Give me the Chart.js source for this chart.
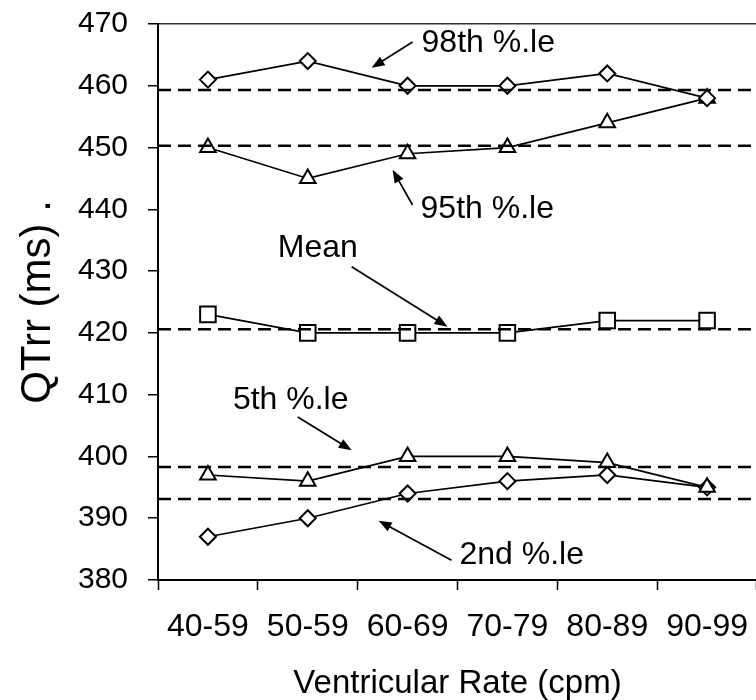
<!DOCTYPE html>
<html>
<head>
<meta charset="utf-8">
<title>QTrr menurut laju ventrikel</title>
<script src="https://cdn.jsdelivr.net/npm/chart.js@4.4.0/dist/chart.umd.min.js"></script>
<style>
    html, body { margin: 0; padding: 0; background: #fff; overflow: hidden; }
    .wrap { width: 756px; height: 700px; overflow: hidden; }
</style>
</head>
<body>
<div class="wrap"><canvas id="qtChart" width="770" height="700"></canvas></div>
<script>
// --- DATA ---
const categories = ['40-59', '50-59', '60-69', '70-79', '80-89', '90-99'];
const p98 = [461, 464, 460, 460, 462, 458];
const p95 = [450, 445, 449, 450, 454, 458];
const meanQt = [423, 420, 420, 420, 422, 422];
const p5 = [397, 396, 400, 400, 399, 395];
const p2 = [387, 390, 394, 396, 397, 395];
// garis putus-putus (nilai acuan)
const refLevels = [459.3, 450.3, 420.6, 398.3, 393.1];
const yTicks = [380, 390, 400, 410, 420, 430, 440, 450, 460, 470];

// Label dan panah, posisi dalam satuan skala (xRef: 0..6, y: ms)
const notes = [
    { text: '98th %.le', tx: 2.64, ty: 466.9, from: [2.55, 467.1], to: [2.14, 462.9] },
    { text: '95th %.le', tx: 2.63, ty: 440.0, from: [2.55, 440.7], to: [2.35, 446.4] },
    { text: 'Mean',      tx: 1.20, ty: 433.7, from: [1.94, 430.7], to: [2.90, 421.0] },
    { text: '5th %.le',  tx: 0.75, ty: 409.1, from: [1.40, 406.4], to: [1.94, 401.0] },
    { text: '2nd %.le',  tx: 3.02, ty: 384.0, from: [2.94, 383.2], to: [2.21, 389.6] }
];

const notesPlugin = {
    id: 'notes',
    afterDatasetsDraw(chart) {
        const ctx = chart.ctx;
        const xs = chart.scales.xRef;
        const ys = chart.scales.y;
        ctx.save();
        ctx.fillStyle = '#000';
        ctx.strokeStyle = '#000';
        ctx.font = '32px "Liberation Sans", Arial, sans-serif';
        ctx.textAlign = 'left';
        ctx.textBaseline = 'middle';
        notes.forEach(function(n) {
            ctx.fillText(n.text, xs.getPixelForValue(n.tx), ys.getPixelForValue(n.ty));

            const x1 = xs.getPixelForValue(n.from[0]), y1 = ys.getPixelForValue(n.from[1]);
            const x2 = xs.getPixelForValue(n.to[0]), y2 = ys.getPixelForValue(n.to[1]);
            const ang = Math.atan2(y2 - y1, x2 - x1);
            const len = 13, half = 5;
            ctx.lineWidth = 1.7;
            ctx.beginPath();
            ctx.moveTo(x1, y1);
            ctx.lineTo(x2 - Math.cos(ang) * len * 0.8, y2 - Math.sin(ang) * len * 0.8);
            ctx.stroke();
            // kepala panah
            ctx.beginPath();
            ctx.moveTo(x2, y2);
            ctx.lineTo(x2 - Math.cos(ang) * len - Math.sin(ang) * half, y2 - Math.sin(ang) * len + Math.cos(ang) * half);
            ctx.lineTo(x2 - Math.cos(ang) * len + Math.sin(ang) * half, y2 - Math.sin(ang) * len - Math.cos(ang) * half);
            ctx.closePath();
            ctx.fill();
        });
        ctx.restore();
    }
};

function seriesLine(data, shape, radius) {
    return {
        data: data,
        borderColor: '#000',
        borderWidth: 1.7,
        backgroundColor: '#fff',
        pointStyle: shape,
        pointRadius: radius,
        pointBorderWidth: 2,
        pointBackgroundColor: '#fff',
        pointBorderColor: '#000',
        tension: 0,
        fill: false
    };
}

function refLine(level) {
    return {
        xAxisID: 'xRef',
        data: [{ x: 0, y: level }, { x: 6, y: level }],
        borderColor: '#000',
        borderWidth: 2.5,
        borderDash: [13, 7],
        pointRadius: 0,
        fill: false
    };
}

document.addEventListener('DOMContentLoaded', function() {
    Chart.defaults.font.family = '"Liberation Sans", Arial, sans-serif';
    Chart.defaults.color = '#000';

    const ctx = document.getElementById('qtChart');
    new Chart(ctx.getContext('2d'), {
        type: 'line',
        data: {
            labels: categories,
            datasets: refLevels.map(refLine).concat([
                seriesLine(p98, 'rectRot', 8),
                seriesLine(p95, 'triangle', 9),
                seriesLine(meanQt, 'rect', 11),
                seriesLine(p5, 'triangle', 9),
                seriesLine(p2, 'rectRot', 8)
            ])
        },
        options: {
            responsive: false,
            devicePixelRatio: 1,
            animation: false,
            layout: { padding: { top: 24, right: 0, bottom: 0, left: 0 } },
            plugins: {
                legend: { display: false },
                tooltip: { enabled: false }
            },
            scales: {
                x: {
                    type: 'category',
                    offset: true,
                    afterFit: function(scale) { scale.height = 120; },
                    grid: {
                        offset: true,
                        drawOnChartArea: false,
                        tickLength: 10,
                        tickColor: '#000',
                        tickWidth: 1.5
                    },
                    border: { display: true, color: '#000', width: 2 },
                    ticks: {
                        // jarak label diatur lewat lineHeight
                        font: { size: 32, lineHeight: 2.3 },
                        padding: 0,
                        maxRotation: 0,
                        autoSkip: false
                    },
                    title: {
                        display: true,
                        text: 'Ventricular Rate (cpm)',
                        font: { size: 33, lineHeight: 1 },
                        padding: { top: 0, bottom: 0 }
                    }
                },
                xRef: {
                    type: 'linear',
                    min: 0,
                    max: 6,
                    display: false
                },
                y: {
                    min: 380,
                    max: 470,
                    afterFit: function(scale) {
                        scale.width = 158;
                        scale.paddingTop = 0;
                        scale.paddingBottom = 0;
                    },
                    afterBuildTicks: function(scale) {
                        scale.ticks = yTicks.map(function(v) { return { value: v }; });
                    },
                    grid: {
                        color: function(c) { return c.tick && c.tick.value === 470 ? '#333' : 'rgba(0,0,0,0)'; },
                        lineWidth: 1.5,
                        tickLength: 10,
                        tickColor: '#000',
                        tickWidth: 1.5
                    },
                    border: { display: true, color: '#000', width: 2 },
                    ticks: {
                        font: { size: 30 },
                        padding: 20
                    },
                    title: {
                        display: true,
                        text: 'QTrr (ms) .',
                        font: { size: 42, lineHeight: 1 },
                        padding: { top: 17, bottom: 0 }
                    }
                }
            }
        },
        plugins: [notesPlugin]
    });
});
</script>
</body>
</html>
